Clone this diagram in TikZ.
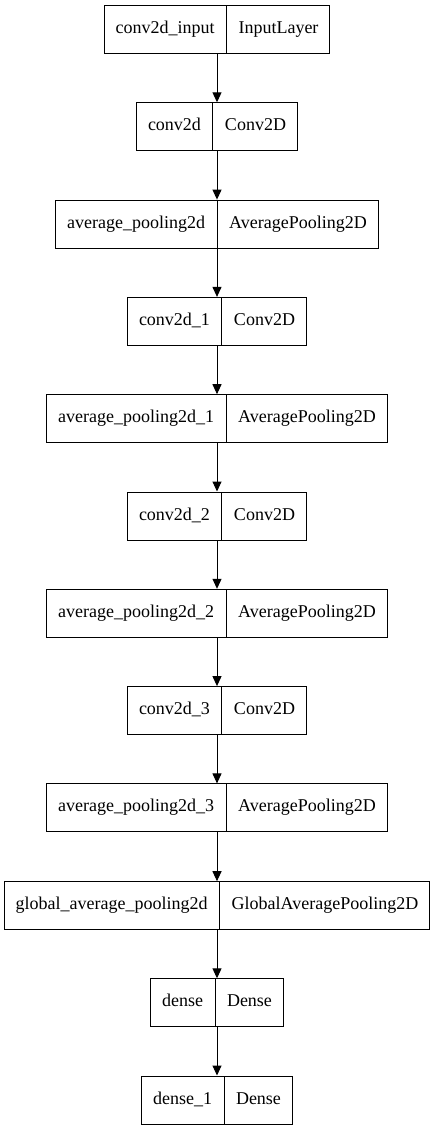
\documentclass[tikz,border=0pt]{standalone}
\usepackage{fontspec}
\setmainfont{Liberation Serif}
\usetikzlibrary{shapes.multipart,arrows.meta}
% equal height and depth for every cell of a layer box
\newcommand\cellstrut{\rule[-4.5pt]{0pt}{17pt}}
\begin{document}
\begin{tikzpicture}[x=1pt,y=-1pt,
  layer/.style={draw=black, line width=1pt, fill=white,
    rectangle split, rectangle split horizontal, rectangle split parts=2,
    inner xsep=11.5pt, inner ysep=0pt,
    minimum height=48pt, font=\fontsize{18}{21}\selectfont},
  flow/.style={line width=1pt, -{Triangle[length=10pt,width=9pt]}}]
  \useasboundingbox (0,0) rectangle (435,1131);
  \node[layer] (n0)  at (217,29.5)   {\cellstrut conv2d\_input \nodepart{two}\cellstrut InputLayer};
  \node[layer] (n1)  at (217,126.8)  {\cellstrut conv2d \nodepart{two}\cellstrut Conv2D};
  \node[layer] (n2)  at (217,224.1)  {\cellstrut average\_pooling2d \nodepart{two}\cellstrut AveragePooling2D};
  \node[layer] (n3)  at (217,321.4)  {\cellstrut conv2d\_1 \nodepart{two}\cellstrut Conv2D};
  \node[layer] (n4)  at (217,418.7)  {\cellstrut average\_pooling2d\_1 \nodepart{two}\cellstrut AveragePooling2D};
  \node[layer] (n5)  at (217,516.0)  {\cellstrut conv2d\_2 \nodepart{two}\cellstrut Conv2D};
  \node[layer] (n6)  at (217,613.3)  {\cellstrut average\_pooling2d\_2 \nodepart{two}\cellstrut AveragePooling2D};
  \node[layer] (n7)  at (217,710.6)  {\cellstrut conv2d\_3 \nodepart{two}\cellstrut Conv2D};
  \node[layer] (n8)  at (217,807.9)  {\cellstrut average\_pooling2d\_3 \nodepart{two}\cellstrut AveragePooling2D};
  \node[layer] (n9)  at (217,905.7)  {\cellstrut global\_average\_pooling2d \nodepart{two}\cellstrut GlobalAveragePooling2D};
  \node[layer] (n10) at (217,1002.8) {\cellstrut dense \nodepart{two}\cellstrut Dense};
  \node[layer] (n11) at (217,1100.0) {\cellstrut dense\_1 \nodepart{two}\cellstrut Dense};
  \foreach \a/\b in {n0/n1,n1/n2,n2/n3,n3/n4,n4/n5,n5/n6,n6/n7,n7/n8,n8/n9,n9/n10,n10/n11}
    \draw[flow] (\a.south) -- (\b.north);
\end{tikzpicture}
\end{document}
